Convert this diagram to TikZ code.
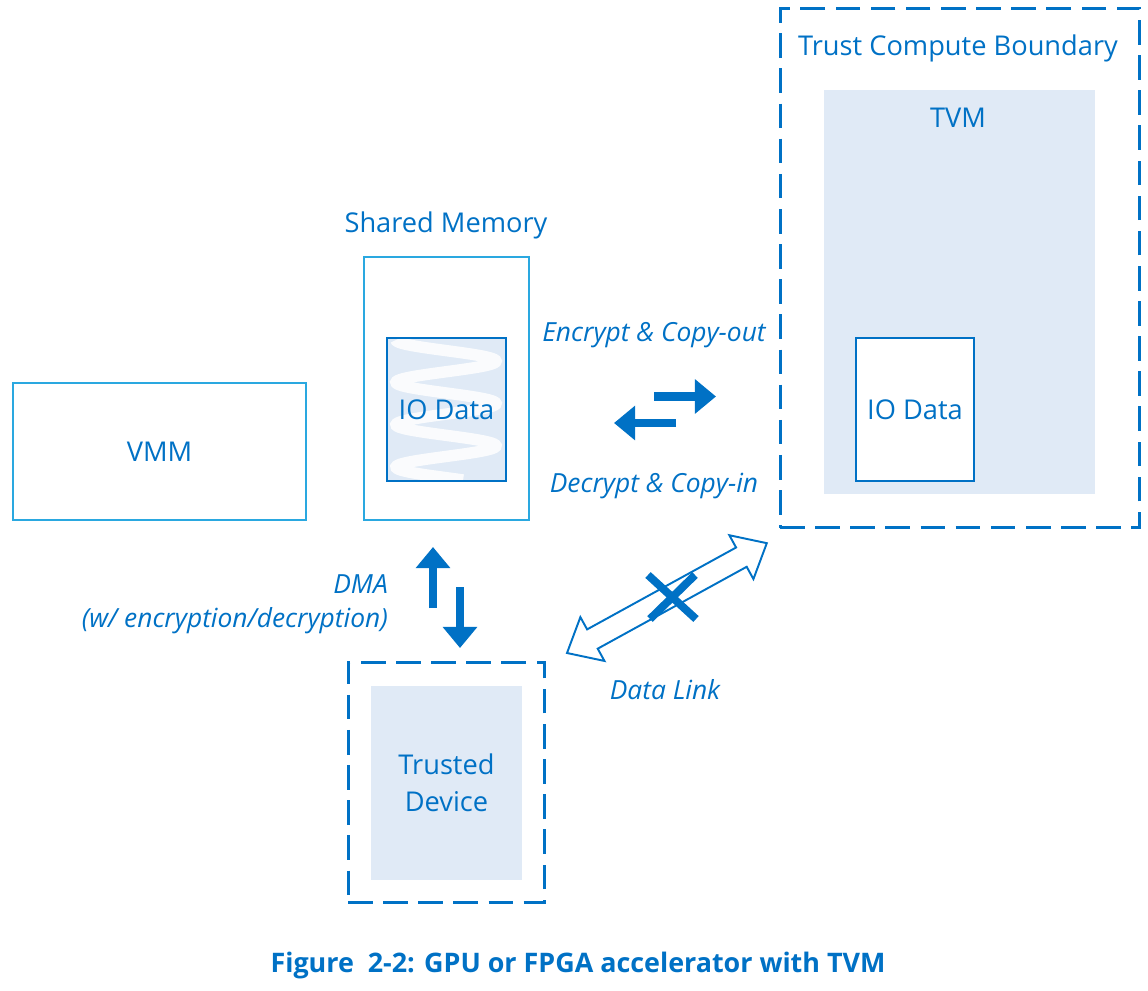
\documentclass[tikz,border=0pt]{standalone}
\usepackage{fontspec}
\setmainfont{Open Sans}
\usetikzlibrary{arrows.meta,positioning}
\definecolor{intelblue}{HTML}{0071C5}
\definecolor{lightline}{HTML}{2AA8E0}
\definecolor{tvmfill}{HTML}{E0EAF6}

\begin{document}
\begin{tikzpicture}[x=0.02cm,y=-0.02cm,
	plainbox/.style={rectangle,draw=lightline,line width=1.2pt,text=intelblue,font=\fontsize{15.5}{21}\selectfont},
	databox/.style={rectangle,draw=intelblue,line width=1pt,text=intelblue,font=\fontsize{15.5}{21}\selectfont,minimum width=2.37cm,minimum height=2.86cm},
	dashbox/.style={rectangle,draw=intelblue,line width=1.7pt,dash pattern=on 14pt off 6pt},
	fillbox/.style={rectangle,fill=tvmfill,text=intelblue,font=\fontsize{15.5}{21}\selectfont,align=center},
	lbl/.style={text=intelblue,font=\fontsize{15.5}{19}\selectfont},
	itlbl/.style={text=intelblue,font=\fontsize{15}{19.5}\selectfont\itshape},
	blockarrow/.style={draw=intelblue,line width=5pt,-{Triangle[length=12pt,width=19pt]}},
	crossline/.style={draw=intelblue,line width=4.5pt}]

	\useasboundingbox (0,0) rectangle (1148,990);

	% left side
	\node [plainbox,minimum width=5.86cm,minimum height=2.74cm] (vmm) at (159.5,451.5) {VMM};
	\node [plainbox,minimum width=3.3cm,minimum height=5.26cm] (shmem) at (446.5,388.5) {};
	\node [lbl] (shmemlbl) at (446,225) {Shared Memory};
	\node [databox,fill=tvmfill] (iodata) at (446.5,409.5) {};
	\begin{scope}
		\clip (387,338) rectangle (506,481);
		\draw [white,line width=6.5pt,opacity=0.85] plot[domain=340:480,samples=160,smooth] ({446+50*sin(8.5*(\x-340)-90)},\x);
	\end{scope}
	\node [databox] (iodatab) at (446.5,409.5) {IO Data};

	% trust compute boundary
	\node [dashbox,minimum width=7.2cm,minimum height=10.4cm] (tcb) at (960,268) {};
	\node [lbl] (tcblbl) at (958,48) {Trust Compute Boundary};
	\node [fillbox,minimum width=5.42cm,minimum height=8.08cm] (tvm) at (959.5,292) {};
	\node [lbl] (tvmlbl) at (958,118) {TVM};
	\node [databox,fill=white] (tvmdata) at (915,409.5) {IO Data};

	% trusted device
	\node [dashbox,minimum width=3.94cm,minimum height=4.82cm] (trusted) at (446.5,782.5) {};
	\node [fillbox,minimum width=3.02cm,minimum height=3.88cm] (device) at (446.5,783) {Trusted\\Device};

	% copy in / out
	\coordinate (outa) at (654,396.5);
	\coordinate (outb) at (716,396.5);
	\coordinate (ina) at (676,423);
	\coordinate (inb) at (614,423);
	\draw [blockarrow] (outa) -- (outb);
	\draw [blockarrow] (ina) -- (inb);
	\node [itlbl] (enclbl) at (654,335) {Encrypt \& Copy-out};
	\node [itlbl] (declbl) at (654,486) {Decrypt \& Copy-in};

	% dma
	\coordinate (dmaua) at (433,608);
	\coordinate (dmaub) at (433,547);
	\coordinate (dmada) at (460,587);
	\coordinate (dmadb) at (460,648);
	\draw [blockarrow] (dmaua) -- (dmaub);
	\draw [blockarrow] (dmada) -- (dmadb);
	\node [itlbl,anchor=east,align=right] (dmalbl) at (394,604) {DMA\\(w/ encryption/decryption)};

	% data link
	\coordinate (linka) at (567,653);
	\coordinate (linkb) at (767,543);
	\begin{scope}[shift={(linka)},rotate=28.8]
		\draw [intelblue,line width=1.1pt,line join=miter] (0,0) -- (29,-25) -- (29,-11) -- (199,-11) -- (199,-25) -- (228,0)
			-- (199,25) -- (199,11) -- (29,11) -- (29,25) -- cycle;
	\end{scope}
	\coordinate (xa) at (648,575);
	\coordinate (xb) at (696,619);
	\coordinate (xc) at (695,575);
	\coordinate (xd) at (650,619);
	\draw [crossline] (xa) -- (xb);
	\draw [crossline] (xc) -- (xd);
	\node [itlbl] (linklbl) at (665,690) {Data Link};

	\node [text=intelblue,font=\fontsize{15.3}{18}\selectfont\bfseries] (caption) at (578,966) {Figure\ \ 2-2: GPU or FPGA accelerator with TVM};

\end{tikzpicture}
\end{document}
